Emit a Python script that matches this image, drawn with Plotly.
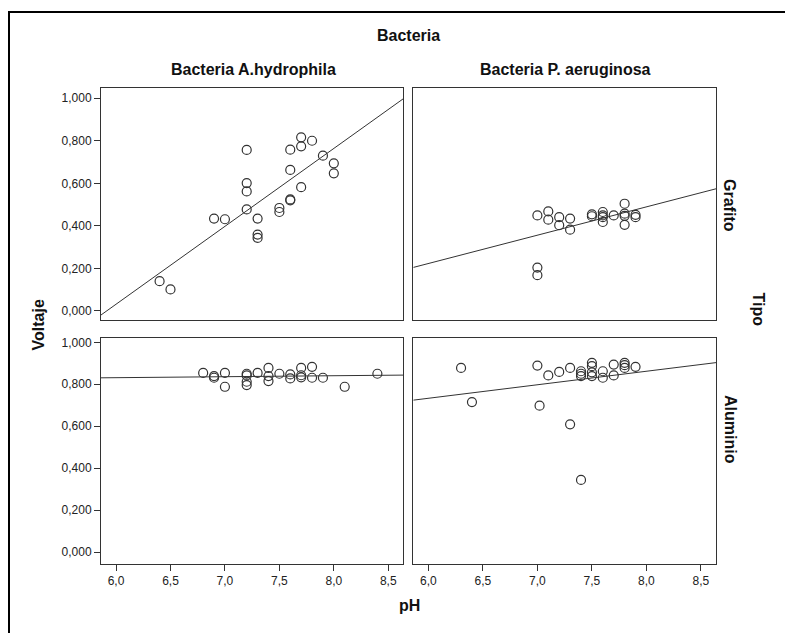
import numpy as np
import plotly.graph_objects as go
from plotly.subplots import make_subplots

# --- Data (pH, Voltaje) per panel ---
ah_graf_ph = [6.4, 6.5, 6.9, 7.0, 7.2, 7.2, 7.2, 7.2, 7.3, 7.3, 7.3, 7.5, 7.5, 7.6, 7.6, 7.6, 7.6,
              7.7, 7.7, 7.7, 7.8, 7.9, 8.0, 8.0]
ah_graf_v = [0.140, 0.101, 0.434, 0.431, 0.757, 0.601, 0.562, 0.477, 0.434, 0.359, 0.343, 0.484,
             0.465, 0.524, 0.520, 0.663, 0.758, 0.582, 0.774, 0.816, 0.800, 0.730, 0.694, 0.647]

pa_graf_ph = [7.0, 7.0, 7.0, 7.1, 7.1, 7.2, 7.2, 7.3, 7.3, 7.5, 7.5, 7.6, 7.6, 7.6, 7.6, 7.7,
              7.8, 7.8, 7.8, 7.8, 7.9, 7.9]
pa_graf_v = [0.449, 0.204, 0.168, 0.468, 0.429, 0.441, 0.403, 0.434, 0.382, 0.454, 0.445, 0.465,
             0.449, 0.441, 0.418, 0.449, 0.504, 0.457, 0.447, 0.405, 0.452, 0.441]

ah_alu_ph = [6.8, 6.9, 6.9, 7.0, 7.0, 7.2, 7.2, 7.2, 7.2, 7.3, 7.4, 7.4, 7.4, 7.5, 7.6, 7.6, 7.7,
             7.7, 7.7, 7.8, 7.8, 7.9, 8.1, 8.4]
ah_alu_v = [0.854, 0.839, 0.831, 0.854, 0.788, 0.850, 0.842, 0.812, 0.796, 0.854, 0.878, 0.839,
            0.815, 0.850, 0.847, 0.828, 0.878, 0.843, 0.833, 0.883, 0.831, 0.831, 0.788, 0.850]

pa_alu_ph = [6.3, 6.4, 7.0, 7.02, 7.1, 7.2, 7.3, 7.3, 7.4, 7.4, 7.4, 7.4, 7.5, 7.5, 7.5, 7.5,
             7.6, 7.6, 7.7, 7.7, 7.8, 7.8, 7.8, 7.9]
pa_alu_v = [0.878, 0.715, 0.889, 0.698, 0.842, 0.859, 0.878, 0.609, 0.862, 0.850, 0.839, 0.344,
            0.902, 0.886, 0.857, 0.839, 0.862, 0.831, 0.894, 0.842, 0.902, 0.891, 0.878, 0.883]

col_labels = ["Bacteria A.hydrophila", "Bacteria P. aeruginosa"]
row_labels = ["Grafito", "Aluminio"]
x_ticks = [6.0, 6.5, 7.0, 7.5, 8.0, 8.5]
y_ticks = [0.0, 0.2, 0.4, 0.6, 0.8, 1.0]

W, H = 785, 633
XR = [5.862, 8.638]
YR_TOP = [-0.045, 1.05]
YR_BOT = [-0.055, 1.02]

panels = [
    (1, 1, ah_graf_ph, ah_graf_v),
    (1, 2, pa_graf_ph, pa_graf_v),
    (2, 1, ah_alu_ph, ah_alu_v),
    (2, 2, pa_alu_ph, pa_alu_v),
]

fig = make_subplots(rows=2, cols=2)
DARK = "#333333"
FONT = "Liberation Sans, Arial, sans-serif"

for r, c, xs, ys in panels:
    fig.add_trace(go.Scatter(
        x=xs, y=ys, mode="markers",
        marker=dict(symbol="circle-open", size=9, color=DARK, line=dict(width=1.2, color=DARK)),
        showlegend=False, hoverinfo="x+y"), row=r, col=c)
    b, a = np.polyfit(np.array(xs), np.array(ys), 1)
    lx = np.array(XR)
    fig.add_trace(go.Scatter(
        x=lx, y=a + b * lx, mode="lines", line=dict(color=DARK, width=1),
        showlegend=False, hoverinfo="skip"), row=r, col=c)

xdom = {1: [101 / W, 403.3 / W], 2: [413.3 / W, 716 / W]}
ydom = {1: [1 - 319 / H, 1 - 85 / H], 2: [1 - 563.3 / H, 1 - 336.7 / H]}

for r in (1, 2):
    for c in (1, 2):
        fig.update_xaxes(domain=xdom[c], range=XR, tickvals=x_ticks, tickformat=".1f",
                         showticklabels=(r == 2), ticks="outside" if r == 2 else "",
                         ticklen=6, tickcolor=DARK, showgrid=False, zeroline=False,
                         showline=True, mirror=True, linecolor=DARK, linewidth=1,
                         tickfont=dict(size=12, color="#222", family=FONT),
                         row=r, col=c)
        fig.update_yaxes(domain=ydom[r], range=YR_TOP if r == 1 else YR_BOT,
                         tickvals=y_ticks, tickformat=".3f",
                         showticklabels=(c == 1), ticks="outside" if c == 1 else "",
                         ticklen=6, tickcolor=DARK, showgrid=False, zeroline=False,
                         showline=True, mirror=True, linecolor=DARK, linewidth=1,
                         tickfont=dict(size=12, color="#222", family=FONT),
                         row=r, col=c)

ann = []
def add_text(txt, x, y, angle=0, size=16):
    ann.append(dict(text="<b>%s</b>" % txt, x=x / W, y=1 - y / H, xref="paper", yref="paper",
                    showarrow=False, textangle=angle, xanchor="center", yanchor="middle",
                    font=dict(size=size, color="#111", family=FONT)))

add_text("Bacteria", 408, 33)
add_text(col_labels[0], 253, 67)
add_text(col_labels[1], 565, 67)
add_text(row_labels[0], 730, 203, angle=90)
add_text(row_labels[1], 730, 428, angle=90)
add_text("Tipo", 758, 308, angle=90)
add_text("pH", 409, 605)
add_text("Voltaje", 38, 324, angle=-90)

fig.update_layout(
    width=W, height=H, margin=dict(l=0, r=0, t=0, b=0),
    paper_bgcolor="white", plot_bgcolor="white",
    separators=",.", annotations=ann,
    font=dict(family=FONT, color="#222"),
    shapes=[dict(type="rect", xref="paper", yref="paper",
                 x0=9 / W, x1=1.02, y0=-0.02, y1=1 - 9 / H,
                 line=dict(color="black", width=2))],
)

fig.write_html("out.html")
